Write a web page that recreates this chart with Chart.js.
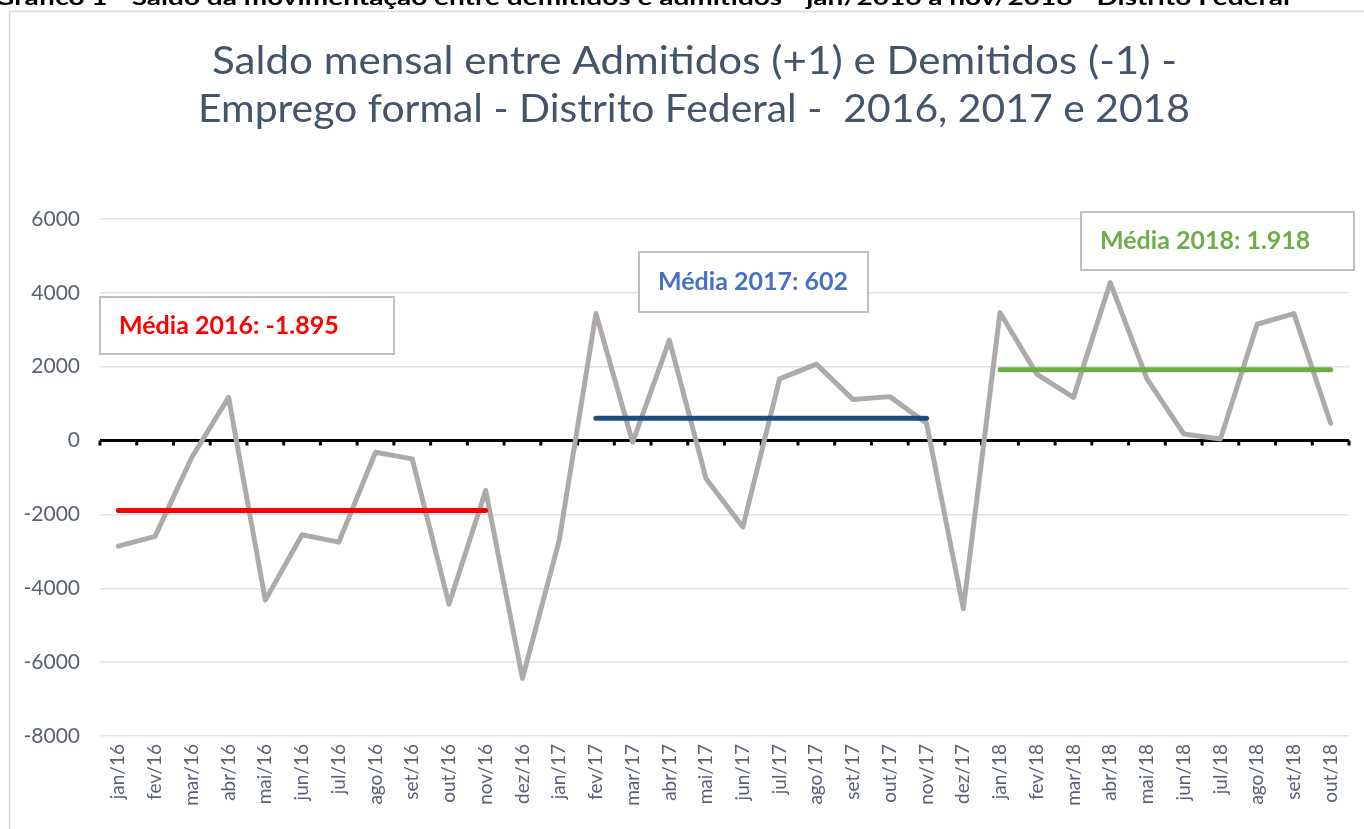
<!DOCTYPE html>
<html>
<head>
<meta charset="utf-8">
<script src="https://cdn.jsdelivr.net/npm/chart.js@4.4.1/dist/chart.umd.min.js"></script>
<style>
  html, body { margin: 0; padding: 0; background: #ffffff; }
  #wrap { width: 1364px; height: 829px; }
</style>
</head>
<body>
<div id="wrap"><canvas id="saldoChart" width="1364" height="829"></canvas></div>
<script>
const meses = [
  "jan/16", "fev/16", "mar/16", "abr/16", "mai/16", "jun/16",
  "jul/16", "ago/16", "set/16", "out/16", "nov/16", "dez/16",
  "jan/17", "fev/17", "mar/17", "abr/17", "mai/17", "jun/17",
  "jul/17", "ago/17", "set/17", "out/17", "nov/17", "dez/17",
  "jan/18", "fev/18", "mar/18", "abr/18", "mai/18", "jun/18",
  "jul/18", "ago/18", "set/18", "out/18",
];

const saldo = [
  -2860, -2595, -450, 1170, -4320, -2550, -2750, -315, -495, -4430, -1350, -6440,
  -2700, 3440, -45, 2720, -1035, -2340, 1670, 2070, 1110, 1190, 470, -4550,
  3470, 1800, 1170, 4280, 1670, 180, 45, 3150, 3440, 470,
];

// medias anuais (linhas horizontais)
const mediaValores = [-1895, 602, 1918];
const mediaInicio = ["jan/16", "fev/17", "jan/18"];
const mediaFim = ["nov/16", "nov/17", "out/18"];
const mediaTextos = ["Média 2016: -1.895", "Média 2017: 602", "Média 2018: 1.918"];

const yTicks = [-8000, -6000, -4000, -2000, 0, 2000, 4000, 6000];

const tituloLinhas = [
  "Saldo mensal entre Admitidos (+1) e Demitidos (-1) -",
  "Emprego formal - Distrito Federal -  2016, 2017 e 2018",
];
const legendaTopo =
  "Gráfico 1 - Saldo da movimentação entre demitidos e admitidos - jan/2016 a nov/2018 - Distrito Federal";

const mediaCores = ["#FF0000", "#1F4E79", "#70AD47"];
const textoCores = ["#FF0000", "#4472C4", "#70AD47"];
// caixas de texto: [x, y, largura, altura]
const caixas = [
  [100, 297, 294, 57],
  [639, 252, 229, 60],
  [1081, 212, 273, 58],
];

function serieMedia(k) {
  const a = meses.indexOf(mediaInicio[k]);
  const b = meses.indexOf(mediaFim[k]);
  return meses.map((m, i) => (i >= a && i <= b ? mediaValores[k] : null));
}

// texto esticado na horizontal ate a largura pedida
function textoLargura(ctx, txt, x, y, largura) {
  const w = ctx.measureText(txt).width;
  ctx.save();
  ctx.translate(x, y);
  ctx.scale(largura / w, 1);
  ctx.fillText(txt, 0, 0);
  ctx.restore();
}

const decor = {
  id: "decor",
  beforeDraw(chart) {
    const ctx = chart.ctx;
    ctx.save();
    ctx.fillStyle = "#ffffff";
    ctx.fillRect(0, 0, chart.width, chart.height);
    // legenda cortada no topo
    ctx.fillStyle = "#000000";
    ctx.font = "bold 21px Lato";
    ctx.textBaseline = "alphabetic";
    ctx.textAlign = "left";
    textoLargura(ctx, legendaTopo, -6, 5, 1296);
    // moldura
    ctx.strokeStyle = "#D9D9D9";
    ctx.lineWidth = 1.5;
    ctx.strokeRect(9.5, 11.5, chart.width + 20, chart.height + 20);
    // titulo
    ctx.fillStyle = "#44546A";
    ctx.font = "38px Lato";
    ctx.textBaseline = "middle";
    textoLargura(ctx, tituloLinhas[0], 212, 62, 965);
    textoLargura(ctx, tituloLinhas[1], 198, 110, 992);
    ctx.restore();
  },
  beforeDatasetsDraw(chart) {
    const ctx = chart.ctx;
    const x = chart.scales.x;
    const y0 = chart.scales.y.getPixelForValue(0);
    const passo = (x.right - x.left) / meses.length;
    ctx.save();
    ctx.strokeStyle = "#000000";
    ctx.lineWidth = 3;
    ctx.beginPath();
    ctx.moveTo(x.left, y0);
    ctx.lineTo(x.right, y0);
    for (let i = 0; i <= meses.length; i++) {
      const px = x.left + passo * i;
      ctx.moveTo(px, y0);
      ctx.lineTo(px, y0 + 5);
    }
    ctx.stroke();
    ctx.restore();
  },
  afterDatasetsDraw(chart) {
    const ctx = chart.ctx;
    ctx.save();
    caixas.forEach((c, k) => {
      ctx.fillStyle = "#ffffff";
      ctx.fillRect(c[0], c[1], c[2], c[3]);
      ctx.strokeStyle = "#BFBFBF";
      ctx.lineWidth = 2;
      ctx.strokeRect(c[0], c[1], c[2], c[3]);
      ctx.fillStyle = textoCores[k];
      ctx.font = "bold 25px Lato";
      ctx.textAlign = "left";
      ctx.textBaseline = "middle";
      ctx.fillText(mediaTextos[k], c[0] + 19, c[1] + c[3] / 2);
    });
    ctx.restore();
  },
};

const ctx = document.getElementById("saldoChart").getContext("2d");
new Chart(ctx, {
  type: "line",
  data: {
    labels: meses,
    datasets: [
      ...mediaValores.map((v, k) => ({
        label: mediaTextos[k],
        data: serieMedia(k),
        borderColor: mediaCores[k],
        borderWidth: 5,
        borderCapStyle: "round",
        pointRadius: 0,
        spanGaps: false,
      })),
      {
        label: "Saldo",
        data: saldo,
        borderColor: "#AEAAAA",
        borderWidth: 5,
        borderJoinStyle: "round",
        borderCapStyle: "round",
        pointRadius: 0,
        tension: 0,
      },
    ],
  },
  options: {
    responsive: false,
    animation: false,
    layout: { padding: { top: 219, left: 0, right: 15, bottom: 0 } },
    scales: {
      x: {
        offset: true,
        grid: { display: false, drawTicks: false },
        border: { display: false },
        ticks: {
          autoSkip: false,
          minRotation: 90,
          maxRotation: 90,
          padding: 8,
          color: "#5A6272",
          font: { family: "Lato", size: 19 },
        },
        afterFit(scale) {
          scale.height = 93;
        },
      },
      y: {
        min: -8000,
        max: 6000,
        afterBuildTicks(scale) {
          scale.ticks = yTicks.map((v) => ({ value: v }));
        },
        grid: { color: "#DCE1EA", lineWidth: 1.5, drawTicks: false },
        border: { display: false },
        ticks: {
          padding: 20,
          color: "#5A6272",
          font: { family: "Lato", size: 21 },
          callback: (v) => String(v),
        },
        afterFit(scale) {
          scale.width = 100;
        },
      },
    },
    plugins: {
      legend: { display: false },
      tooltip: { enabled: false },
    },
  },
  plugins: [decor],
});
</script>
</body>
</html>
